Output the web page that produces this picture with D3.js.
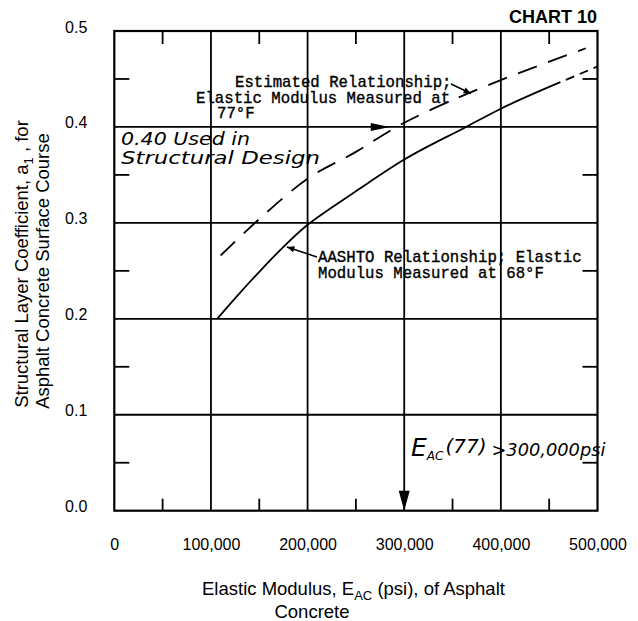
<!DOCTYPE html>
<html>
<head>
<meta charset="utf-8">
<script src="https://cdn.jsdelivr.net/npm/d3@7"></script>
<style>
body { margin: 0; background: #fff; }
svg { display: block; }
.tick text { font-family: "Liberation Sans", Arial, sans-serif; font-size: 16px; fill: #000; }
.sans { font-family: "Liberation Sans", Arial, sans-serif; fill: #000; }
.mono { font-family: "Liberation Mono", "Courier New", monospace; font-size: 15.7px; fill: #000; stroke: #000; stroke-width: 0.35px; }
.hand { font-family: "DejaVu Sans", sans-serif; font-style: italic; font-weight: 200; fill: #000; }
</style>
</head>
<body>
<svg id="chart" width="638" height="621"></svg>
<script>
/* global d3 */

// axis ticks
const xTicks = [0, 100000, 200000, 300000, 400000, 500000];
const yTicks = [0, 0.1, 0.2, 0.3, 0.4, 0.5];
const xMinor = [50000, 150000, 250000, 350000, 450000];
const yMinor = [0.05, 0.15, 0.25, 0.35, 0.45];

// AASHTO relationship (68F), solid, then dashed extension
const aashtoE = [106500, 130000, 150000, 175000, 200000, 225000, 250000, 300000, 364000, 400000, 453000];
const aashtoA = [0.200, 0.227, 0.249, 0.275, 0.298, 0.316, 0.333, 0.366, 0.400, 0.419, 0.443];
const aashtoExtE = [453000, 500000];
const aashtoExtA = [0.443, 0.463];

// estimated relationship (77F), dashed
const estE = [110000, 150000, 200000, 250000, 292000, 350000, 383000, 450000, 488000];
const estA = [0.266, 0.304, 0.346, 0.374, 0.400, 0.428, 0.442, 0.468, 0.482];

// design point
const designE = 300000;
const designA = 0.40;
const arrowTipE = 285000;

const svg = d3.select('#chart');

const x = d3.scaleLinear().domain([0, 500000]).range([114.3, 597.5]);
const y = d3.scaleLinear().domain([0, 0.5]).range([510.7, 31]);

const x0 = x(0), x1 = x(500000), y0 = y(0), y1 = y(0.5);

// grid lines
svg.append('g').selectAll('line').data(xTicks.slice(1, -1)).join('line')
    .attr('x1', d => x(d)).attr('x2', d => x(d))
    .attr('y1', y1).attr('y2', y0)
    .attr('stroke', '#000').attr('stroke-width', 1.8);

svg.append('g').selectAll('line').data(yTicks.slice(1, -1)).join('line')
    .attr('x1', x0).attr('x2', x1)
    .attr('y1', d => y(d)).attr('y2', d => y(d))
    .attr('stroke', '#000').attr('stroke-width', 1.8);

// minor ticks, inside the frame
const minor = svg.append('g').attr('stroke', '#000').attr('stroke-width', 1.8);
xMinor.forEach(d => {
    minor.append('line').attr('x1', x(d)).attr('x2', x(d)).attr('y1', y1).attr('y2', y1 + 13);
    minor.append('line').attr('x1', x(d)).attr('x2', x(d)).attr('y1', y0).attr('y2', y0 - 12);
});
yMinor.forEach(d => {
    minor.append('line').attr('x1', x0).attr('x2', x0 + 15).attr('y1', y(d)).attr('y2', y(d));
    minor.append('line').attr('x1', x1).attr('x2', x1 - 15).attr('y1', y(d)).attr('y2', y(d));
});

// frame
svg.append('rect')
    .attr('x', x0).attr('y', y1)
    .attr('width', x1 - x0).attr('height', y0 - y1)
    .attr('fill', 'none').attr('stroke', '#000').attr('stroke-width', 2.2);

// axes (labels only)
const xAxis = svg.append('g')
    .attr('transform', `translate(0,${y0})`)
    .call(d3.axisBottom(x).tickValues(xTicks).tickFormat(d3.format(',')).tickSize(0));
xAxis.select('.domain').remove();
xAxis.selectAll('text').attr('y', 39).attr('dy', 0);

const yAxis = svg.append('g')
    .attr('transform', `translate(${x0},0)`)
    .call(d3.axisLeft(y).tickValues(yTicks).tickFormat(d3.format('.1f')).tickSize(0));
yAxis.select('.domain').remove();
yAxis.selectAll('text').attr('x', -27).attr('dy', 1);

// curves
const line = d3.line().x(d => x(d[0])).y(d => y(d[1])).curve(d3.curveMonotoneX);

svg.append('path')
    .datum(aashtoE.map((e, i) => [e, aashtoA[i]]))
    .attr('d', line)
    .attr('fill', 'none').attr('stroke', '#000').attr('stroke-width', 1.8);

svg.append('path')
    .datum(aashtoExtE.map((e, i) => [e, aashtoExtA[i]]))
    .attr('d', line)
    .attr('fill', 'none').attr('stroke', '#000').attr('stroke-width', 1.8)
    .attr('stroke-dasharray', '9,6');

svg.append('path')
    .datum(estE.map((e, i) => [e, estA[i]]))
    .attr('d', line)
    .attr('fill', 'none').attr('stroke', '#000').attr('stroke-width', 1.8)
    .attr('stroke-dasharray', '20,12');

// design arrows
const tipX = x(arrowTipE), tipY = y(designA);
svg.append('path')
    .attr('d', `M${tipX},${tipY} L${tipX - 19},${tipY - 4} L${tipX - 19},${tipY + 4} Z`)
    .attr('fill', '#000');

const vx = x(designE);
svg.append('path')
    .attr('d', `M${vx},${y0} L${vx - 5.5},${y0 - 20} L${vx + 5.5},${y0 - 20} Z`)
    .attr('fill', '#000');

// annotation arrows
const pointer = (ax, ay, bx, by) => {
    svg.append('line').attr('x1', ax).attr('y1', ay).attr('x2', bx).attr('y2', by)
        .attr('stroke', '#000').attr('stroke-width', 1.5);
    const ang = Math.atan2(by - ay, bx - ax);
    const len = 8, w = 0.4;
    svg.append('path')
        .attr('d', `M${bx},${by} L${bx - len * Math.cos(ang - w)},${by - len * Math.sin(ang - w)} L${bx - len * Math.cos(ang + w)},${by - len * Math.sin(ang + w)} Z`)
        .attr('fill', '#000');
};
pointer(451, 84, 471, 93.5);
pointer(317, 257, 287, 247);

// annotation text
const est = svg.append('text').attr('class', 'mono');
est.append('tspan').attr('x', 235).attr('y', 87).text('Estimated Relationship;');
est.append('tspan').attr('x', 196).attr('y', 102.5).text('Elastic Modulus Measured at');
est.append('tspan').attr('x', 217).attr('y', 118).text('77°F');

const aas = svg.append('text').attr('class', 'mono');
aas.append('tspan').attr('x', 318).attr('y', 262).text('AASHTO Relationship; Elastic');
aas.append('tspan').attr('x', 318).attr('y', 278).text('Modulus Measured at 68°F');

// handwritten notes
svg.append('text').attr('class', 'hand').attr('x', 121).attr('y', 145)
    .attr('font-size', 18).attr('textLength', 129).attr('lengthAdjust', 'spacingAndGlyphs')
    .text('0.40 Used in');
svg.append('text').attr('class', 'hand').attr('x', 121).attr('y', 164)
    .attr('font-size', 18).attr('textLength', 199).attr('lengthAdjust', 'spacingAndGlyphs')
    .text('Structural Design');

const note = svg.append('text').attr('class', 'hand').attr('x', 411).attr('y', 456);
note.append('tspan').attr('font-size', 25).text('E');
note.append('tspan').attr('font-size', 12).attr('dy', 4).text('AC');
note.append('tspan').attr('font-size', 20).attr('dy', -7).attr('dx', 2).text('(77)');
note.append('tspan').attr('font-size', 17).attr('dy', 3).attr('dx', 5)
    .attr('textLength', 114).attr('lengthAdjust', 'spacingAndGlyphs').text('>300,000psi');

// titles
svg.append('text').attr('class', 'sans').attr('x', 597).attr('y', 23)
    .attr('text-anchor', 'end').attr('font-size', 18).attr('font-weight', 'bold')
    .text('CHART 10');

const xt = svg.append('text').attr('class', 'sans').attr('x', 202).attr('y', 595).attr('font-size', 18.5);
xt.append('tspan').text('Elastic Modulus, E');
xt.append('tspan').attr('font-size', 13).attr('dy', 5).text('AC');
xt.append('tspan').attr('dy', -5).text(' (psi), of Asphalt');
svg.append('text').attr('class', 'sans').attr('x', 312).attr('y', 618)
    .attr('text-anchor', 'middle').attr('font-size', 18.5).text('Concrete');

const yt = svg.append('g').attr('transform', 'translate(28,264) rotate(-90)');
const yt1 = yt.append('text').attr('class', 'sans').attr('text-anchor', 'middle').attr('font-size', 18.5);
yt1.append('tspan').text('Structural Layer Coefficient, a');
yt1.append('tspan').attr('font-size', 13).attr('dy', 5).text('1');
yt1.append('tspan').attr('dy', -5).text(' , for');
yt.append('text').attr('class', 'sans').attr('text-anchor', 'middle').attr('font-size', 18.5)
    .attr('x', -7).attr('y', 21).text('Asphalt Concrete Surface Course');
</script>
</body>
</html>
